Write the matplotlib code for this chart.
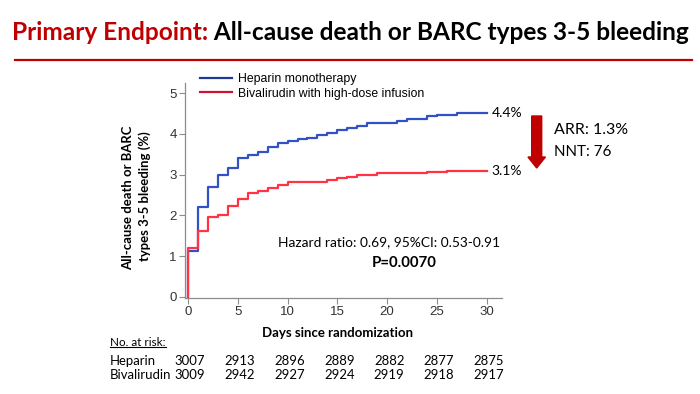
import matplotlib
matplotlib.use('Agg')
import matplotlib.pyplot as plt
from matplotlib.lines import Line2D
from matplotlib.patches import FancyArrow
from matplotlib.transforms import blended_transform_factory, Bbox

# ---------------- data ----------------
hep_days = [0, 0, 1, 2, 3, 4, 5, 6, 7, 8, 9, 10, 11, 12, 13, 14, 15, 16, 17, 18, 21, 22, 24, 25, 27, 30]
hep_pct = [0, 1.13, 2.20, 2.70, 2.99, 3.16, 3.40, 3.48, 3.55, 3.67, 3.77, 3.83, 3.87, 3.91, 3.98,
           4.03, 4.10, 4.15, 4.20, 4.26, 4.32, 4.36, 4.44, 4.47, 4.51, 4.51]
biv_days = [0, 0, 1, 2, 3, 4, 5, 6, 7, 8, 9, 10, 14, 15, 16, 17, 19, 24, 26, 30]
biv_pct = [0, 1.20, 1.61, 1.96, 2.02, 2.22, 2.40, 2.54, 2.61, 2.68, 2.75, 2.83, 2.87, 2.91,
           2.93, 2.99, 3.03, 3.07, 3.10, 3.10]
series_labels = ['Heparin monotherapy', 'Bivalirudin with high-dose infusion']
end_labels = ['4.4%', '3.1%']
x_ticks = [0, 5, 10, 15, 20, 25, 30]
y_ticks = [0, 1, 2, 3, 4, 5]
y_label_lines = ['All-cause death or BARC', 'types 3-5 bleeding (%)']
risk_days = [0, 5, 10, 15, 20, 25, 30]
risk_groups = ['Heparin', 'Bivalirudin']
risk_hep = [3007, 2913, 2896, 2889, 2882, 2877, 2875]
risk_biv = [3009, 2942, 2927, 2924, 2919, 2918, 2917]

# ---------------- style ----------------
W, H = 700, 394
C_BLUE = '#3351c6'
C_RED = '#ff3344'
C_BLUE_LEG = '#1f3a93'
C_RED_LEG = '#d0102c'
C_TITLE = '#c00000'
CAL = ['Lato', 'DejaVu Sans']
ARIAL = ['Liberation Sans', 'DejaVu Sans']

fig = plt.figure(figsize=(W / 100, H / 100), dpi=100)
fig.patch.set_facecolor('white')


def fx(px):
    return px / W


def fy(py):
    return 1 - py / H


ax = fig.add_axes([fx(185), fy(298), fx(501.7) - fx(185), fy(83) - fy(298)])
ax.set_xlim(-0.3, 31.5)
ax.set_ylim(-0.03, 5.25)

ax.step(hep_days, hep_pct, where='post', color=C_BLUE, lw=1.6, zorder=3)
ax.step(biv_days, biv_pct, where='post', color=C_RED, lw=1.6, zorder=4)

for sp in ['top', 'right']:
    ax.spines[sp].set_visible(False)
for sp in ['left', 'bottom']:
    ax.spines[sp].set_color('#8c8c8c')
    ax.spines[sp].set_linewidth(0.9)
ax.set_xticks(x_ticks)
ax.set_yticks(y_ticks)
ax.tick_params(direction='out', length=4, width=0.8, color='#8c8c8c',
               labelcolor='#333333', labelsize=9.5, pad=2)
for lab in ax.get_xticklabels() + ax.get_yticklabels():
    lab.set_family(ARIAL)

# legend
handles = [Line2D([], [], color=C_BLUE_LEG, lw=1.6), Line2D([], [], color=C_RED_LEG, lw=1.6)]
leg = ax.legend(handles, series_labels, loc='upper left', bbox_to_anchor=(fx(200), fy(73)),
                bbox_transform=fig.transFigure, frameon=False, borderpad=0, borderaxespad=0,
                handlelength=2.7, handletextpad=0.5, labelspacing=0.22,
                prop={'family': ARIAL, 'size': 8.6})

# end labels
ax.annotate(end_labels[0], xy=(hep_days[-1], hep_pct[-1]), xytext=(3.3, 0),
            textcoords='offset points', va='center', ha='left', fontsize=10, family=CAL)
ax.annotate(end_labels[1], xy=(biv_days[-1], biv_pct[-1]), xytext=(3.3, 0),
            textcoords='offset points', va='center', ha='left', fontsize=10, family=CAL)

# axis labels
t_xlab = fig.text(fx(337.5), fy(333), 'Days since randomization', ha='center', va='center',
                  fontsize=10, fontweight='bold', family=CAL)
t_y1 = fig.text(fx(128.5), fy(197.5), y_label_lines[0], ha='center', va='center', rotation=90,
                fontsize=10, fontweight='bold', family=CAL)
t_y2 = fig.text(fx(145), fy(196.5), y_label_lines[1], ha='center', va='center', rotation=90,
                fontsize=10, fontweight='bold', family=CAL)

# annotation texts
t_hr = fig.text(fx(278), fy(242), 'Hazard ratio: 0.69, 95%CI: 0.53-0.91', ha='left', va='center',
                fontsize=11, family=CAL)
t_p = fig.text(fx(404.5), fy(263), 'P=0.0070', ha='center', va='center', fontsize=11,
               fontweight='bold', family=CAL)
t_arr = fig.text(fx(554), fy(130), 'ARR: 1.3%', ha='left', va='center', fontsize=12, family=CAL)
t_nnt = fig.text(fx(554), fy(151.5), 'NNT: 76', ha='left', va='center', fontsize=12, family=CAL)

# arrow (in inches)
arr = FancyArrow(5.367, (H - 116) / 100, 0, -(168 - 116) / 100, width=0.10, head_width=0.175,
                 head_length=0.11, length_includes_head=True, color=C_TITLE,
                 transform=fig.dpi_scale_trans)
fig.patches.append(arr)

# title
t_title1 = fig.text(fx(12), fy(33), 'Primary Endpoint:', ha='left', va='center', fontsize=20,
                    fontweight='bold', color=C_TITLE, family=CAL)
t_title2 = fig.text(0, 0, ' All-cause death or BARC types 3-5 bleeding', ha='left', va='bottom',
                    fontsize=20, fontweight='bold', color='black', family=CAL)
fig.add_artist(Line2D([fx(15), fx(692)], [fy(60), fy(60)], transform=fig.transFigure,
                      color=C_TITLE, lw=1.6))

# risk table
t_nar = fig.text(fx(110), fy(342), 'No. at risk:', ha='left', va='center', fontsize=9, family=CAL)
trans = blended_transform_factory(ax.transData, fig.transFigure)
name_texts = []
num_texts = []
for name, vals, yy in zip(risk_groups, [risk_hep, risk_biv], [361, 375]):
    name_texts.append(fig.text(fx(110), fy(yy), name, ha='left', va='center', fontsize=9, family=CAL))
    for d, v in zip(risk_days, vals):
        num_texts.append(ax.text(d + 0.2, fy(yy), str(v), transform=trans, ha='center', va='center',
                                 fontsize=9, family=CAL, clip_on=False))

# ---------- fit text widths to reference ----------
fig.canvas.draw()
r = fig.canvas.get_renderer()


def fit(texts, target, vertical=False):
    bb = Bbox.union([t.get_window_extent(r) for t in texts])
    cur = bb.height if vertical else bb.width
    s = target / cur
    for t in texts:
        t.set_fontsize(t.get_fontsize() * s)


fit([t_hr], 222)
fit([t_p], 65)
fit([t_arr], 74)
fit([t_nnt], 57)
fit([t_xlab], 152)
fit([t_y1], 145, vertical=True)
t_y2.set_fontsize(t_y1.get_fontsize())
fit([t_nar], 55)
fit([name_texts[1]], 62)  # Bivalirudin
for t in name_texts + num_texts:
    t.set_fontsize(name_texts[1].get_fontsize())
fit(leg.get_texts()[:1], 117)
leg.get_texts()[1].set_fontsize(leg.get_texts()[0].get_fontsize())

# title: two-piece
fig.canvas.draw()
b1 = t_title1.get_window_extent(r)
t_title2.set_fontsize(t_title1.get_fontsize())
fig.canvas.draw()
b2 = t_title2.get_window_extent(r)
s = 676 / (b1.width + b2.width)
t_title1.set_fontsize(t_title1.get_fontsize() * s)
t_title2.set_fontsize(t_title2.get_fontsize() * s)
fig.canvas.draw()
b1 = t_title1.get_window_extent(r)
t_title2.set_position((b1.x1 / W, b1.y0 / H))
t_title2.set_va('bottom')

# underline for "No. at risk:"
bn = t_nar.get_window_extent(r)
fig.add_artist(Line2D([bn.x0 / W, bn.x1 / W], [fy(346.5), fy(346.5)], transform=fig.transFigure,
                      color='black', lw=0.8))

fig.savefig('out.png', dpi=100)
